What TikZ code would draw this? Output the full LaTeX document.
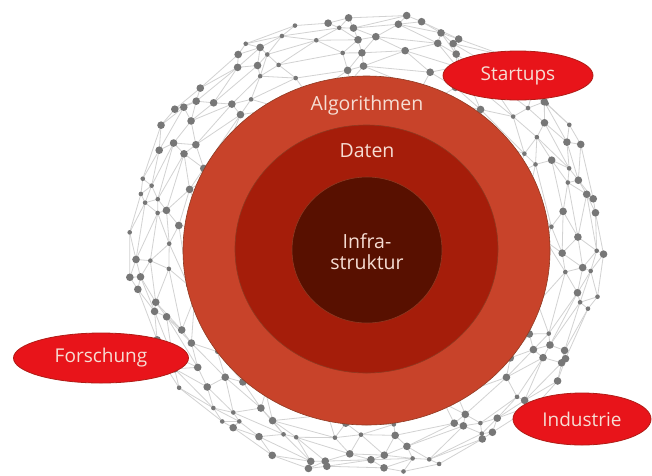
\documentclass[tikz,border=0pt]{standalone}
\usepackage{fontspec}
\setmainfont{Open Sans}
\usetikzlibrary{calc,shapes.geometric}
\definecolor{ringA}{HTML}{C8432A}
\definecolor{ringB}{HTML}{A51D0A}
\definecolor{ringC}{HTML}{581000}
\definecolor{ringedge}{HTML}{8E3A22}
\definecolor{pill}{HTML}{E8141A}
\definecolor{pillborder}{HTML}{B01C16}
\definecolor{lbl}{HTML}{F6DDD3}
\definecolor{netline}{HTML}{D2D2D2}
\definecolor{netdot}{HTML}{777777}
\begin{document}
\begin{tikzpicture}[x=1pt,y=-1pt,
  netedge/.style={draw=netline,line width=0.8pt},
  netdotstyle/.style={fill=netdot},
  disc/.style={ellipse,draw=ringedge,line width=0.6pt,inner sep=0pt},
  pillnode/.style={ellipse,fill=pill,draw=pillborder,line width=0.8pt,inner sep=0pt,
     text=lbl,font=\fontsize{19}{21}\selectfont},
  ringlabel/.style={text=lbl,font=\fontsize{19.5}{21}\selectfont,inner sep=0pt}]
\useasboundingbox (0,0) rectangle (652,475);
\fill[white] (0,0) rectangle (652,475);
\coordinate (C) at (366,244);
% --- network sphere (background) ---
\foreach \k/\f/\n in {1/0.70/22,2/0.78/28,3/0.85/32,4/0.91/36,5/0.96/40,6/0.995/42}{
  \pgfmathtruncatemacro\last{\n-1}
  \foreach \i in {0,...,\last}{
    \pgfmathsetmacro\a{360/\n*(\i+0.35*sin(\i*137.5+\k*61))+\k*11}
    \pgfmathsetmacro\rr{\f+0.018*sin(\i*91+\k*47)}
    \pgfmathsetmacro\rx{236*\rr}
    \pgfmathsetmacro\ry{229*\rr}
    \coordinate (n\k-\i) at ($(C)+(\a:\rx pt and \ry pt)$);
  }
}
\foreach \k/\n in {1/22,2/28,3/32,4/36,5/40,6/42}{
  \pgfmathtruncatemacro\last{\n-1}
  \foreach \i in {0,...,\last}{
    \pgfmathtruncatemacro\j{mod(\i+1,\n)}
    \draw[netedge] (n\k-\i) -- (n\k-\j);
  }
}
\foreach \k/\n/\m in {1/22/28,2/28/32,3/32/36,4/36/40,5/40/42}{
  \pgfmathtruncatemacro\last{\n-1}
  \pgfmathtruncatemacro\kk{\k+1}
  \foreach \i in {0,...,\last}{
    \pgfmathtruncatemacro\ja{mod(floor(\i*\m/\n-11*\m/360)+\m,\m)}
    \pgfmathtruncatemacro\jb{mod(\ja+1,\m)}
    \draw[netedge] (n\k-\i) -- (n\kk-\ja);
    \draw[netedge] (n\k-\i) -- (n\kk-\jb);
  }
}
\foreach \k/\n in {1/22,2/28,3/32,4/36,5/40,6/42}{
  \pgfmathtruncatemacro\last{\n-1}
  \foreach \i in {0,...,\last}{
    \pgfmathsetmacro\s{sin(\i*53+\k*29)>0.45 ? 2.3 : 3.8}
    \fill[netdotstyle] (n\k-\i) circle (\s pt);
  }
}
% --- concentric discs ---
\node[disc,fill=ringA,minimum width=367pt,minimum height=349pt] (algo) at (366.5,250.5) {};
\node[disc,fill=ringB,minimum width=263pt,minimum height=248pt] (daten) at (366.5,249) {};
\node[disc,fill=ringC,minimum width=150pt,minimum height=146pt] (infra) at (367,250) {};
\node[ringlabel,anchor=base] (algolbl) at (367,110) {Algorithmen};
\node[ringlabel,anchor=base] (datenlbl) at (367,157) {Daten};
\node[ringlabel,align=center] (infralbl) at (367,251.5) {Infra-\\struktur};
% --- actor ellipses ---
\node[pillnode,minimum width=150pt,minimum height=49pt] (startups) at (518,75.5) {Startups};
\node[pillnode,minimum width=175pt,minimum height=50pt] (forschung) at (101,358) {Forschung};
\node[pillnode,minimum width=138pt,minimum height=52pt] (industrie) at (582,419) {Industrie};
\end{tikzpicture}
\end{document}
